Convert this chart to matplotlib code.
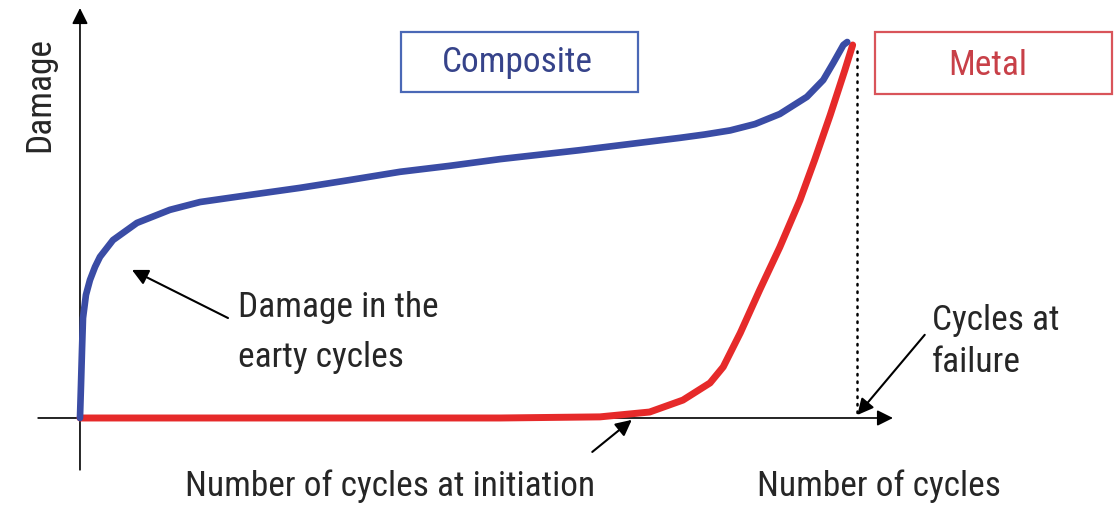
import numpy as np
import matplotlib
matplotlib.use('Agg')
from matplotlib import pyplot as plt
from matplotlib.patches import Rectangle

# normalised cycles (0 = start, 1 = failure) and damage (0..1)
composite_x = [0, 0.0013, 0.0026, 0.0039, 0.0077, 0.0129, 0.0194, 0.0258, 0.0426, 0.0735,
               0.116, 0.155, 0.219, 0.284, 0.348, 0.413, 0.477, 0.542, 0.645, 0.774,
               0.806, 0.839, 0.871, 0.903, 0.938, 0.959, 0.972, 0.985, 0.990]
composite_y = [0, 0.088, 0.182, 0.268, 0.330, 0.370, 0.405, 0.432, 0.477, 0.523,
               0.558, 0.579, 0.598, 0.617, 0.638, 0.660, 0.676, 0.694, 0.718, 0.751,
               0.760, 0.771, 0.788, 0.815, 0.861, 0.906, 0.952, 1.0, 1.008]

metal_x = [0, 0.284, 0.542, 0.671, 0.735, 0.778, 0.813, 0.830, 0.852, 0.877,
           0.903, 0.929, 0.948, 0.968, 0.987, 0.997]
metal_y = [0, 0, 0, 0.003, 0.016, 0.048, 0.094, 0.137, 0.228, 0.343,
           0.458, 0.584, 0.692, 0.812, 0.933, 1.0]

blue = '#3a4ca5'
red = '#e62a2a'
ink = '#262626'
fam = ['Roboto Condensed', 'Archivo Narrow', 'Liberation Sans Narrow', 'Liberation Sans']
fs = 25.5

fig = plt.figure(figsize=(11.15, 5.08), dpi=100)
ax = fig.add_axes([0, 0, 1, 1])
ax.set_xlim(-0.1032, 1.3355)
ax.set_ylim(-0.2413, 1.1206)
ax.axis('off')

# axes with arrows
ax.annotate('', xy=(0, 1.099), xytext=(0, -0.139),
            arrowprops=dict(arrowstyle='-|>', color='black', lw=1.2, mutation_scale=24,
                            shrinkA=0, shrinkB=0))
ax.annotate('', xy=(1.049, 0), xytext=(-0.054, 0),
            arrowprops=dict(arrowstyle='-|>', color='black', lw=1.2, mutation_scale=24,
                            shrinkA=0, shrinkB=0))

ax.plot(metal_x, metal_y, color=red, lw=5, solid_capstyle='round',
        solid_joinstyle='round', zorder=3)
ax.plot(composite_x, composite_y, color=blue, lw=4.8, solid_capstyle='round',
        solid_joinstyle='round', zorder=4)

# failure line
ax.plot([1.003, 1.003], [0.985, 0.01], color='black', lw=1.8, ls=(0, (0.6, 2.4)),
        dash_capstyle='round', zorder=2)

ax.text(-0.0516, 0.866, 'Damage', rotation=90, ha='center', va='center',
        fontsize=fs, family=fam, color=ink)

ax.add_patch(Rectangle((0.4142, 0.874), 0.3058, 0.161, fill=False, ec='#4a68b6', lw=1.6))
ax.text(0.5645, 0.952, 'Composite', ha='center', va='center', fontsize=fs, family=fam,
        color='#36438a')
ax.add_patch(Rectangle((1.0258, 0.869), 0.3058, 0.166, fill=False, ec='#d9545a', lw=1.6))
ax.text(1.1716, 0.946, 'Metal', ha='center', va='center', fontsize=fs, family=fam,
        color='#c84048')

ax.annotate('', xy=(0.0671, 0.397), xytext=(0.191, 0.268),
            arrowprops=dict(arrowstyle='-|>', color='black', lw=1.5, mutation_scale=24,
                            shrinkA=0, shrinkB=0))
ax.text(0.204, 0.271, 'Damage in the', ha='left', va='baseline', fontsize=fs,
        family=fam, color=ink)
ax.text(0.204, 0.137, 'earty cycles', ha='left', va='baseline', fontsize=fs,
        family=fam, color=ink)

ax.annotate('', xy=(0.712, -0.005), xytext=(0.661, -0.091),
            arrowprops=dict(arrowstyle='-|>', color='black', lw=1.5, mutation_scale=24,
                            shrinkA=0, shrinkB=0))
ax.text(0.135, -0.209, 'Number of cycles at initiation', ha='left', va='baseline',
        fontsize=fs, family=fam, color=ink)

ax.annotate('', xy=(1.003, 0.008), xytext=(1.090, 0.223),
            arrowprops=dict(arrowstyle='-|>', color='black', lw=1.5, mutation_scale=24,
                            shrinkA=0, shrinkB=0))
ax.text(1.099, 0.236, 'Cycles at', ha='left', va='baseline', fontsize=fs,
        family=fam, color=ink)
ax.text(1.099, 0.123, 'failure', ha='left', va='baseline', fontsize=fs,
        family=fam, color=ink)
ax.text(0.874, -0.209, 'Number of cycles', ha='left', va='baseline',
        fontsize=fs, family=fam, color=ink)

fig.savefig('out.png', dpi=100)
